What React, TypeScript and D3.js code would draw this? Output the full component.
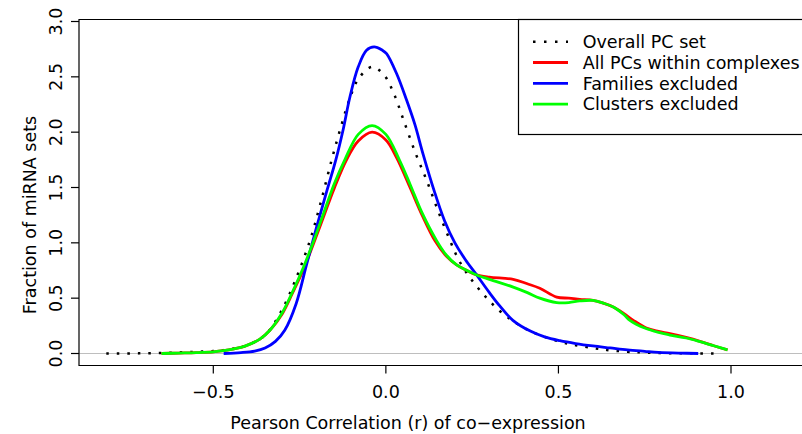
import React from 'react';
import * as d3 from 'd3';

const xTickValues = [-0.5, 0, 0.5, 1.0];
const xTickLabels = ['\u22120.5', '0.0', '0.5', '1.0'];
const yTickValues = [0, 0.5, 1, 1.5, 2, 2.5, 3];
const yTickLabels = ['0.0', '0.5', '1.0', '1.5', '2.0', '2.5', '3.0'];

const xTitle = 'Pearson Correlation (r) of co\u2212expression';
const yTitle = 'Fraction of miRNA sets';

const seriesNames = ['Overall PC set', 'All PCs within complexes', 'Families excluded', 'Clusters excluded'];
const seriesColors = ['#000000', '#FF0000', '#0000FF', '#00FF00'];

const overallR = [-0.81, -0.75, -0.7, -0.65, -0.6, -0.55, -0.5, -0.47, -0.44, -0.41, -0.39, -0.36, -0.34, -0.3, -0.26, -0.22, -0.19, -0.157, -0.13, -0.105, -0.08, -0.04, -0.006, 0.023, 0.05, 0.086, 0.12, 0.15, 0.186, 0.212, 0.245, 0.284, 0.328, 0.37, 0.42, 0.5, 0.55, 0.606, 0.64, 0.7, 0.73, 0.8, 0.9, 0.97];
const overallD = [0, 0, 0.002, 0.005, 0.01, 0.015, 0.022, 0.03, 0.045, 0.065, 0.09, 0.14, 0.2, 0.4, 0.68, 1.02, 1.35, 1.75, 2.05, 2.3, 2.48, 2.59, 2.52, 2.35, 2.12, 1.81, 1.55, 1.3, 1.02, 0.84, 0.68, 0.53, 0.39, 0.29, 0.2, 0.11, 0.075, 0.047, 0.032, 0.016, 0.011, 0.004, 0.001, 0];

const allPcR = [-0.65, -0.6, -0.55, -0.5, -0.47, -0.44, -0.41, -0.365, -0.336, -0.3, -0.27, -0.24, -0.21, -0.18, -0.15, -0.114, -0.08, -0.04, 0, 0.031, 0.07, 0.105, 0.142, 0.175, 0.205, 0.235, 0.263, 0.3, 0.369, 0.41, 0.446, 0.495, 0.53, 0.562, 0.6, 0.63, 0.659, 0.69, 0.717, 0.755, 0.79, 0.823, 0.87, 0.91, 0.95, 0.99];
const allPcD = [0, 0.004, 0.008, 0.015, 0.025, 0.042, 0.065, 0.13, 0.21, 0.36, 0.55, 0.75, 0.99, 1.24, 1.49, 1.75, 1.92, 2.0, 1.93, 1.77, 1.5, 1.25, 1.02, 0.88, 0.8, 0.75, 0.71, 0.69, 0.67, 0.63, 0.59, 0.51, 0.5, 0.49, 0.48, 0.455, 0.42, 0.36, 0.3, 0.23, 0.2, 0.18, 0.145, 0.11, 0.07, 0.032];

const familiesR = [-0.47, -0.42, -0.38, -0.35, -0.32, -0.293, -0.26, -0.23, -0.2, -0.17, -0.145, -0.124, -0.104, -0.08, -0.056, -0.034, -0.01, 0.002, 0.031, 0.06, 0.084, 0.108, 0.14, 0.17, 0.2, 0.23, 0.263, 0.3, 0.33, 0.368, 0.42, 0.46, 0.504, 0.55, 0.6, 0.65, 0.7, 0.75, 0.79, 0.85, 0.905];
const familiesD = [0, 0.008, 0.022, 0.05, 0.11, 0.21, 0.45, 0.8, 1.15, 1.48, 1.75, 2.02, 2.32, 2.59, 2.74, 2.77, 2.74, 2.71, 2.53, 2.29, 2.07, 1.8, 1.47, 1.2, 1.0, 0.85, 0.71, 0.55, 0.43, 0.3, 0.2, 0.15, 0.116, 0.09, 0.068, 0.05, 0.032, 0.02, 0.011, 0.004, 0];

const clustersR = [-0.65, -0.6, -0.55, -0.5, -0.47, -0.44, -0.41, -0.365, -0.336, -0.3, -0.27, -0.24, -0.21, -0.18, -0.15, -0.119, -0.08, -0.04, 0, 0.039, 0.07, 0.105, 0.147, 0.175, 0.205, 0.235, 0.263, 0.3, 0.369, 0.41, 0.446, 0.495, 0.53, 0.562, 0.6, 0.63, 0.659, 0.69, 0.707, 0.75, 0.79, 0.823, 0.87, 0.91, 0.95, 0.99];
const clustersD = [0, 0.004, 0.008, 0.015, 0.025, 0.042, 0.065, 0.13, 0.21, 0.37, 0.56, 0.77, 1.01, 1.27, 1.53, 1.75, 1.98, 2.06, 1.98, 1.75, 1.53, 1.27, 1.02, 0.89, 0.8, 0.75, 0.71, 0.67, 0.6, 0.55, 0.5, 0.46, 0.46, 0.475, 0.48, 0.455, 0.42, 0.35, 0.3, 0.23, 0.19, 0.167, 0.14, 0.107, 0.07, 0.032];

const W = 802;
const H = 434;
const FONT = "'DejaVu Sans', 'Open Sans', sans-serif";
const FS = 17.5;

export default function App() {
  const x = d3.scaleLinear().domain([-0.5, 1.0]).range([213.3, 731]);
  const y = d3.scaleLinear().domain([0, 3]).range([353.5, 21.5]);
  const boxLeft = 79;
  const boxTop = 19.5;
  const boxBottom = 365.5;
  const boxRight = 805;

  const line = d3
    .line<[number, number]>()
    .x((d) => x(d[0]))
    .y((d) => y(d[1]))
    .curve(d3.curveCatmullRom.alpha(0.5));

  const zip = (a: number[], b: number[]) => a.map((v, i) => [v, b[i]] as [number, number]);
  const series = [
    { pts: zip(overallR, overallD), color: seriesColors[0], dotted: true },
    { pts: zip(allPcR, allPcD), color: seriesColors[1], dotted: false },
    { pts: zip(familiesR, familiesD), color: seriesColors[2], dotted: false },
    { pts: zip(clustersR, clustersD), color: seriesColors[3], dotted: false },
  ];

  const legendX = 518.5;
  const legendTop = 41.7;
  const legendStep = 20.8;

  return (
    <svg
      width={W}
      height={H}
      style={{ position: 'absolute', left: 0, top: 0, background: '#fff' }}
      fontFamily={FONT}
    >
      <rect x={0} y={0} width={W} height={H} fill="#fff" />
      <defs>
        <clipPath id="plotclip">
          <rect x={boxLeft} y={boxTop} width={boxRight - boxLeft} height={boxBottom - boxTop} />
        </clipPath>
      </defs>
      <line x1={boxLeft} x2={W} y1={y(0)} y2={y(0)} stroke="#bebebe" strokeWidth={1} />
      <g clipPath="url(#plotclip)">
        {series.map((s, i) => (
          <path
            key={i}
            d={line(s.pts) || ''}
            fill="none"
            stroke={s.color}
            strokeWidth={s.dotted ? 2.5 : 2.8}
            strokeDasharray={s.dotted ? '2.5 8' : undefined}
            strokeLinejoin="round"
          />
        ))}
      </g>
      <path
        d={`M${boxRight},${boxTop}H${boxLeft}V${boxBottom}H${boxRight}`}
        fill="none"
        stroke="#000"
        strokeWidth={1.2}
      />
      {xTickValues.map((v, i) => (
        <g key={i}>
          <line x1={x(v)} x2={x(v)} y1={boxBottom} y2={boxBottom + 8} stroke="#000" strokeWidth={1.2} />
          <text x={x(v)} y={398} textAnchor="middle" fontSize={FS} fill="#000">
            {xTickLabels[i]}
          </text>
        </g>
      ))}
      <text x={408} y={429} textAnchor="middle" fontSize={FS} fill="#000">
        {xTitle}
      </text>
      {yTickValues.map((v, i) => (
        <g key={i}>
          <line x1={boxLeft} x2={boxLeft - 8} y1={y(v)} y2={y(v)} stroke="#000" strokeWidth={1.2} />
          <text
            transform={`translate(${62},${y(v)}) rotate(-90)`}
            textAnchor="middle"
            fontSize={FS}
            fill="#000"
          >
            {yTickLabels[i]}
          </text>
        </g>
      ))}
      <text
        transform={`translate(${36},${215}) rotate(-90)`}
        textAnchor="middle"
        fontSize={FS}
        fill="#000"
      >
        {yTitle}
      </text>
      <rect x={legendX} y={boxTop} width={300} height={115} fill="#fff" stroke="#000" strokeWidth={1.2} />
      {seriesNames.map((name, i) => (
        <g key={i}>
          <line
            x1={533}
            x2={568}
            y1={legendTop + i * legendStep}
            y2={legendTop + i * legendStep}
            stroke={seriesColors[i]}
            strokeWidth={i === 0 ? 2.5 : 2.8}
            strokeDasharray={i === 0 ? '2.5 8.5' : undefined}
          />
          <text x={582.7} y={legendTop + i * legendStep + 6.3} fontSize={FS} fill="#000">
            {name}
          </text>
        </g>
      ))}
    </svg>
  );
}
